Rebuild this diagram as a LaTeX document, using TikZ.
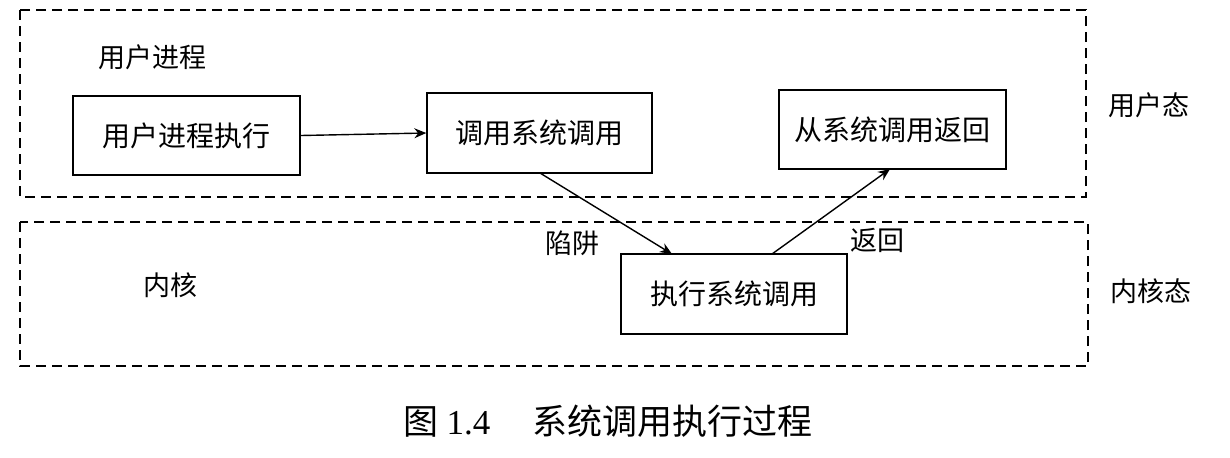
\documentclass[tikz,border=0pt]{standalone}
\usepackage{fontspec}
\setmainfont{Noto Sans CJK SC}
\newfontfamily\numfont{Liberation Serif}
\usetikzlibrary{arrows.meta}
\begin{document}
\begin{tikzpicture}[x=0.5pt,y=-0.5pt,
  region/.style={draw, line width=0.7pt, dash pattern=on 5pt off 3pt},
  procbox/.style={draw, line width=0.7pt, inner sep=0pt, font=\fontsize{14}{16}\selectfont},
  lbl/.style={inner sep=0pt, font=\fontsize{13.5}{16}\selectfont},
  flow/.style={line width=0.7pt, -{Stealth[length=6pt,width=5pt,inset=2pt]}}]
\useasboundingbox (0,0) rectangle (1230,457);
% regions
\draw[region] (20,10) rectangle (1086,197);
\draw[region] (20,222) rectangle (1088,366);
% boxes
\node[procbox, minimum width=113.5pt, minimum height=39.5pt] (ue) at (186.5,135.5) {用户进程执行};
\node[procbox, minimum width=112.5pt, minimum height=40pt] (cs) at (539.5,133) {调用系统调用};
\node[procbox, minimum width=113.5pt, minimum height=39.5pt] (rs) at (892.5,129.5) {从系统调用返回};
\node[procbox, minimum width=113pt, minimum height=40pt] (ex) at (734,294) {执行系统调用};
% arrows
\coordinate (csb) at (540,173);
\coordinate (ext) at (672,254);
\coordinate (exb) at (772,254);
\coordinate (rsb) at (890,169);
\draw[flow] (ue.east) -- (cs.west);
\draw[flow] (csb) -- (ext);
\draw[flow] (exb) -- (rsb);
% labels
\node[lbl] (up) at (152,57) {用户进程};
\node[lbl] (kn) at (170,285) {内核};
\node[lbl] (trap) at (572,243) {陷阱};
\node[lbl] (ret) at (877,240) {返回};
\node[lbl] (um) at (1149,105) {用户态};
\node[lbl] (km) at (1151,291) {内核态};
\node[inner sep=0pt, font=\fontsize{17.5}{20}\selectfont] (cap) at (608,421) {图 {\numfont 1.4}\hspace{1.2em}系统调用执行过程};
\end{tikzpicture}
\end{document}
